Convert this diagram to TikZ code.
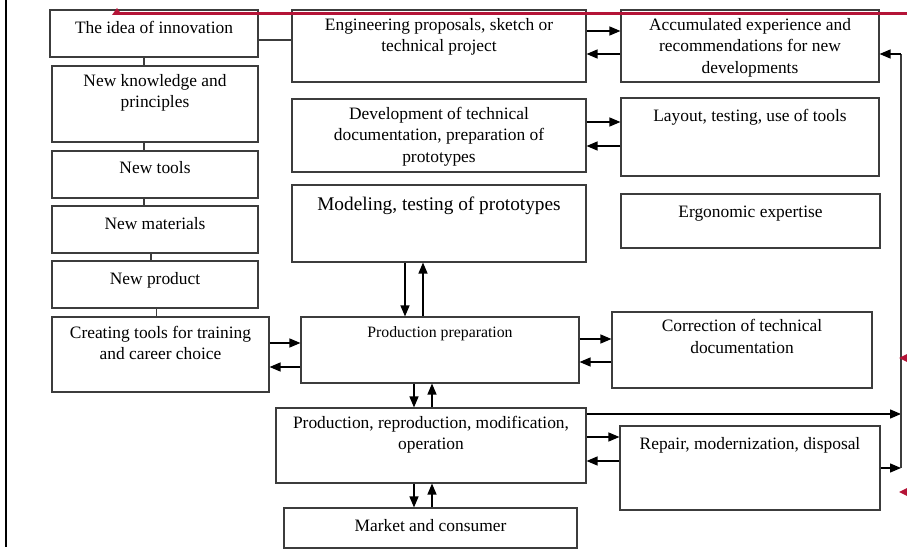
\documentclass[tikz,border=0pt]{standalone}
\usepackage{fontspec}
\setmainfont{Liberation Serif}
\usetikzlibrary{positioning, arrows.meta}
\definecolor{boxgray}{RGB}{60,60,60}
\definecolor{markred}{RGB}{180,20,55}

\begin{document}
\begin{tikzpicture}[
			x=1pt, y=-1pt,
			box/.style={
				rectangle,
				draw=boxgray,
				line width=1.1pt,
				inner sep=0pt
			},
			txt/.style={
				inner sep=0pt,
				align=center,
				font=\fontsize{17.4}{21.5}\selectfont,
				execute at begin node=\strut
			},
			arrow/.style={
				-{Triangle[length=11pt,width=9pt]},
				line width=1.3pt
			},
			link/.style={
				draw=boxgray,
				line width=1.1pt
			}
			]
			
			\useasboundingbox (0,0) rectangle (907,559);
			
			% left column
			\node (idea) [box, minimum width=208, minimum height=47] at (154,33.5) {};
			\node (know) [box, minimum width=206, minimum height=76] at (155,104) {};
			\node (tools) [box, minimum width=206, minimum height=47] at (155,174.5) {};
			\node (mater) [box, minimum width=206, minimum height=47] at (155,229.5) {};
			\node (prod) [box, minimum width=206, minimum height=47] at (155,284.5) {};
			\node (creat) [box, minimum width=217, minimum height=75] at (160.5,354.5) {};
			
			% middle column
			\node (eng) [box, minimum width=294, minimum height=72] at (439,46) {};
			\node (devdoc) [box, minimum width=294, minimum height=73] at (439,135.5) {};
			\node (model) [box, minimum width=294, minimum height=77] at (439,223.5) {};
			\node (prep) [box, minimum width=278, minimum height=66] at (440,350) {};
			\node (oper) [box, minimum width=310, minimum height=75] at (431,445.5) {};
			\node (market) [box, minimum width=293, minimum height=40] at (430.5,528) {};
			
			% right column
			\node (accum) [box, minimum width=258, minimum height=72] at (750,46) {};
			\node (layout) [box, minimum width=258, minimum height=78] at (750,137) {};
			\node (ergo) [box, minimum width=259, minimum height=54] at (750.5,221) {};
			\node (correct) [box, minimum width=260, minimum height=76] at (742,350) {};
			\node (repair) [box, minimum width=260, minimum height=84] at (750,468) {};
			
			% texts
			\node (ideaTxt) [txt, below=8.5pt of idea.north] {The idea of innovation};
			\node (knowTxt) [txt, below=8.5pt of know.north] {New knowledge and\\principles};
			\node (toolsTxt) [txt, below=8pt of tools.north] {New tools};
			\node (materTxt) [txt, below=8.5pt of mater.north] {New materials};
			\node (prodTxt) [txt, below=8.5pt of prod.north] {New product};
			\node (creatTxt) [txt, below=9.5pt of creat.north] {Creating tools for training\\and career choice};
			\node (engTxt) [txt, below=8.5pt of eng.north] {Engineering proposals, sketch or\\technical project};
			\node (devdocTxt) [txt, below=8.5pt of devdoc.north] {Development of technical\\documentation, preparation of\\prototypes};
			\node (modelTxt) [txt, font=\fontsize{19.3}{23.5}\selectfont, below=9.5pt of model.north] {Modeling, testing of prototypes};
			\node (prepTxt) [txt, font=\fontsize{15.8}{19}\selectfont, below=7.7pt of prep.north] {Production preparation};
			\node (operTxt) [txt, below=8.5pt of oper.north] {Production, reproduction, modification,\\operation};
			\node (marketTxt) [txt, below=8.5pt of market.north] {Market and consumer};
			\node (accumTxt) [txt, below=8.5pt of accum.north] {Accumulated experience and\\recommendations for new\\developments};
			\node (layoutTxt) [txt, below=8.5pt of layout.north] {Layout, testing, use of tools};
			\node (ergoTxt) [txt, below=8.5pt of ergo.north] {Ergonomic expertise};
			\node (correctTxt) [txt, below=8pt of correct.north] {Correction of technical\\documentation};
			\node (repairTxt) [txt, below=8.5pt of repair.north] {Repair, modernization, disposal};
			
			% left chain
			\foreach \a/\b/\s in {idea/know/-11, know/tools/-11, tools/mater/-11, mater/prod/-4, prod/creat/-4}
				\draw [link] ([xshift=\s pt]\b.north) -- ([xshift=\s pt]\b.north |- \a.south);
			\draw [link] ([yshift=-6.5pt]idea.east) -- ([yshift=-6.5pt]idea.east -| eng.west);
			
			% two-way arrows
			\draw [arrow] ([yshift=15pt]eng.east) -- ([yshift=15pt]eng.east -| accum.west);
			\draw [arrow] ([yshift=-8pt]eng.east -| accum.west) -- ([yshift=-8pt]eng.east);
			\draw [arrow] ([yshift=13.5pt]devdoc.east) -- ([yshift=13.5pt]devdoc.east -| layout.west);
			\draw [arrow] ([yshift=-10.5pt]devdoc.east -| layout.west) -- ([yshift=-10.5pt]devdoc.east);
			\draw [arrow] ([xshift=-34pt]model.south) -- ([xshift=-34pt]model.south |- prep.north);
			\draw [arrow] ([xshift=-16pt]model.south |- prep.north) -- ([xshift=-16pt]model.south);
			\draw [arrow] ([yshift=11.5pt]creat.east) -- ([yshift=11.5pt]creat.east -| prep.west);
			\draw [arrow] ([yshift=-12.5pt]creat.east -| prep.west) -- ([yshift=-12.5pt]creat.east);
			\draw [arrow] ([yshift=11pt]prep.east) -- ([yshift=11pt]prep.east -| correct.west);
			\draw [arrow] ([yshift=-12pt]prep.east -| correct.west) -- ([yshift=-12pt]prep.east);
			\draw [arrow] ([xshift=-26pt]prep.south) -- ([xshift=-26pt]prep.south |- oper.north);
			\draw [arrow] ([xshift=-8pt]prep.south |- oper.north) -- ([xshift=-8pt]prep.south);
			\draw [arrow] ([xshift=-17pt]oper.south) -- ([xshift=-17pt]oper.south |- market.north);
			\draw [arrow] ([xshift=1pt]oper.south |- market.north) -- ([xshift=1pt]oper.south);
			\draw [arrow] ([yshift=8.5pt]oper.east) -- ([yshift=8.5pt]oper.east -| repair.west);
			\draw [arrow] ([yshift=-15.5pt]oper.east -| repair.west) -- ([yshift=-15.5pt]oper.east);
			
			% feedback line
			\coordinate (busTop) at (901,54);
			\coordinate (busBot) at (901,468);
			\draw [arrow] ([yshift=31.5pt]oper.east) -- ([yshift=31.5pt]oper.east -| busTop);
			\draw [arrow] (repair.east) -- (repair.east -| busTop);
			\draw [link] (busBot) -- (busTop);
			\draw [arrow] (busTop) -- (busTop -| accum.east);
			
			% marks
			\draw [line width=2pt] (6,0) -- (6,547);
			\draw [draw=markred, line width=2.4pt] (907,13.5) -- (117,13.5);
			\fill [markred] (112,15) -- (122,15) -- (117,8) -- cycle;
			\fill [markred] (899,358) -- (907,354) -- (907,362) -- cycle;
			\fill [markred] (899,492) -- (907,488) -- (907,496) -- cycle;
			
		\end{tikzpicture}
\end{document}
